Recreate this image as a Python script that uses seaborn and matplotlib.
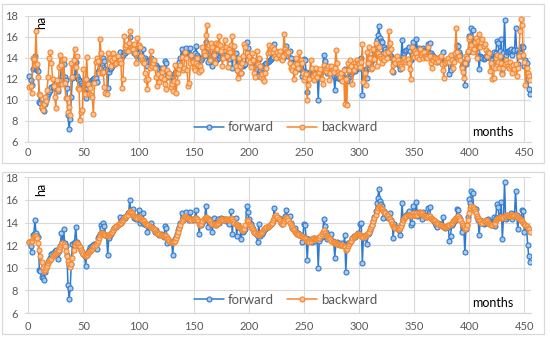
import numpy as np
import pandas as pd
import seaborn as sns
import matplotlib.pyplot as plt
from matplotlib.patches import Rectangle

# forward run (same in both panels)
forward = [
    12.3, 11.9, 11.4, 12.9, 13.0, 14.2, 13.1, 12.8, 12.7, 9.8,
    9.7, 9.2, 9.1, 8.9, 9.6, 10.0, 10.3, 10.5, 10.7, 10.9,
    11.2, 11.3, 11.1, 11.5, 11.6, 11.2, 10.8, 11.5, 11.9, 13.1,
    12.3, 13.4, 12.2, 11.9, 11.1, 8.5, 7.2, 8.2, 10.3, 12.1,
    12.2, 12.3, 13.6, 12.3, 12.0, 11.9, 11.8, 11.6, 11.4, 11.2,
    11.0, 10.2, 11.1, 11.4, 11.6, 11.8, 11.7, 11.9, 12.0, 12.1,
    12.1, 11.7, 12.6, 12.8, 13.0, 13.8, 13.5, 14.0, 13.7, 12.9,
    12.8, 11.1, 12.6, 12.9, 13.0, 13.2, 13.3, 13.5, 13.6, 13.6,
    13.8, 13.9, 14.5, 14.0, 14.2, 14.3, 14.5, 14.4, 14.6, 14.8,
    14.9, 16.0, 15.0, 14.8, 15.2, 14.4, 14.5, 14.3, 14.4, 15.1,
    14.0, 14.2, 14.1, 14.8, 13.9, 14.0, 13.8, 13.2, 13.7, 13.8,
    14.0, 13.6, 13.5, 13.4, 13.2, 13.3, 13.1, 13.0, 12.9, 13.0,
    12.9, 12.8, 12.7, 13.7, 13.5, 12.2, 12.5, 12.4, 12.3, 12.3,
    11.1, 12.4, 12.5, 12.7, 13.0, 13.3, 13.6, 14.0, 14.8, 14.2,
    14.4, 14.5, 14.9, 14.4, 14.3, 14.2, 14.9, 14.3, 14.2, 14.3,
    14.4, 15.1, 14.3, 14.1, 13.0, 13.9, 13.8, 14.0, 14.2, 14.3,
    15.5, 14.4, 13.6, 14.3, 14.1, 13.9, 13.2, 14.4, 14.0, 13.8,
    13.9, 14.3, 14.0, 14.2, 14.4, 14.2, 14.3, 14.3, 14.1, 14.2,
    14.2, 13.9, 14.3, 15.0, 13.0, 14.2, 14.3, 14.4, 12.8, 13.8,
    13.6, 13.5, 12.5, 13.3, 13.2, 13.3, 13.4, 15.5, 14.9, 14.3,
    14.0, 13.9, 13.6, 13.4, 13.2, 13.1, 12.9, 12.3, 13.9, 12.8,
    13.1, 13.0, 13.2, 13.3, 13.4, 13.5, 13.6, 13.7, 13.8, 13.9,
    14.0, 14.1, 15.3, 14.6, 14.4, 14.5, 14.4, 14.2, 14.0, 13.9,
    14.0, 14.3, 14.6, 15.1, 14.5, 14.2, 14.6, 14.0, 13.5, 13.5,
    13.4, 13.5, 13.2, 13.0, 13.1, 12.9, 12.9, 12.3, 12.7, 13.9,
    13.8, 12.6, 10.7, 12.4, 12.5, 12.4, 12.3, 12.5, 12.6, 12.4,
    12.5, 12.6, 10.0, 12.4, 12.6, 12.7, 12.8, 14.3, 13.7, 13.2,
    12.5, 12.8, 12.7, 12.6, 13.0, 12.4, 12.3, 10.9, 12.2, 12.3,
    12.1, 12.2, 12.0, 12.1, 12.2, 12.0, 12.9, 9.6, 11.8, 12.2,
    12.2, 12.3, 12.4, 12.6, 12.8, 12.7, 12.9, 13.0, 13.1, 13.0,
    13.9, 14.0, 10.4, 12.8, 12.6, 12.9, 12.1, 13.0, 13.1, 13.3,
    13.6, 13.8, 14.1, 14.5, 15.0, 15.7, 16.2, 17.0, 15.9, 15.6,
    15.5, 14.4, 15.0, 14.8, 14.6, 14.4, 14.5, 14.8, 14.2, 14.0,
    12.6, 13.9, 13.6, 13.5, 13.4, 13.3, 12.9, 13.8, 15.7, 14.2,
    14.4, 14.6, 14.7, 14.8, 15.0, 14.6, 13.8, 14.0, 15.5, 14.7,
    14.8, 15.8, 14.6, 14.9, 14.7, 14.8, 14.3, 14.9, 14.7, 14.6,
    14.5, 14.6, 15.3, 15.4, 14.4, 14.3, 14.2, 14.1, 14.0, 13.8,
    13.6, 14.0, 13.9, 13.8, 13.7, 14.5, 13.6, 13.5, 13.6, 13.7,
    13.6, 12.4, 12.8, 13.8, 14.0, 14.1, 14.2, 14.4, 15.2, 15.1,
    14.5, 14.3, 13.2, 13.6, 13.5, 11.4, 13.4, 13.8, 14.5, 16.1,
    15.7, 16.8, 16.6, 15.3, 15.0, 15.2, 14.5, 14.2, 12.9, 14.2,
    14.1, 14.0, 13.9, 14.0, 14.2, 14.1, 14.3, 14.1, 14.0, 13.9,
    13.8, 14.5, 13.7, 14.4, 15.6, 15.4, 14.5, 14.6, 15.8, 12.5,
    14.4, 17.6, 14.3, 14.5, 14.6, 14.6, 14.7, 14.8, 14.3, 14.6,
    14.7, 16.8, 14.7, 13.4, 14.5, 14.4, 14.2, 15.1, 15.0, 13.2,
    13.8, 13.5, 12.0, 11.0, 10.5,
]

# backward run, upper chart
backward_top = [
    11.2, 11.3, 10.6, 14.0, 13.9, 13.3, 16.5, 13.4, 12.2, 10.5,
    10.4, 9.3, 9.0, 9.6, 10.3, 9.9, 10.9, 12.2, 14.0, 14.5,
    13.5, 12.0, 11.3, 10.3, 9.2, 11.9, 11.0, 13.1, 14.3, 13.3,
    11.5, 13.9, 11.6, 10.2, 10.2, 8.8, 9.3, 8.5, 13.5, 12.2,
    13.8, 14.8, 13.1, 14.2, 11.1, 11.0, 8.1, 8.8, 9.0, 12.9,
    10.5, 12.0, 14.1, 11.5, 10.5, 11.1, 10.4, 10.3, 8.6, 11.6,
    13.6, 14.0, 13.7, 12.5, 15.8, 14.4, 12.5, 12.6, 11.2, 10.6,
    10.5, 14.4, 13.9, 14.0, 13.2, 13.8, 14.4, 14.0, 13.4, 13.5,
    14.2, 13.6, 13.8, 13.5, 11.1, 12.0, 16.1, 15.0, 15.2, 14.6,
    15.4, 16.5, 15.0, 14.9, 14.8, 15.3, 14.4, 13.5, 15.9, 15.2,
    15.0, 14.2, 13.8, 13.6, 13.5, 12.5, 11.9, 11.0, 12.0, 13.0,
    14.6, 13.2, 13.5, 13.8, 13.0, 12.2, 11.3, 12.4, 11.7, 12.2,
    12.6, 13.0, 12.0, 11.5, 11.0, 12.8, 12.3, 12.5, 11.2, 11.5,
    10.8, 11.8, 13.3, 10.6, 11.7, 12.5, 12.9, 13.3, 14.1, 12.8,
    13.0, 14.5, 14.0, 12.8, 11.3, 11.6, 13.5, 14.3, 13.6, 13.0,
    12.8, 13.5, 14.0, 13.3, 12.6, 13.2, 12.8, 15.0, 14.5, 14.3,
    16.2, 17.1, 15.0, 15.2, 13.8, 15.4, 15.0, 14.3, 13.5, 15.4,
    14.8, 15.3, 16.1, 15.2, 14.6, 13.2, 14.0, 15.7, 15.0, 14.2,
    13.1, 14.8, 14.5, 15.2, 16.1, 14.1, 15.1, 13.2, 12.8, 12.1,
    14.0, 13.2, 12.5, 13.5, 14.2, 15.3, 15.0, 14.4, 13.8, 14.2,
    13.6, 13.1, 14.4, 13.8, 12.5, 12.2, 14.6, 13.4, 14.0, 13.2,
    12.2, 12.4, 12.0, 11.8, 12.5, 13.0, 14.4, 15.2, 14.5, 14.8,
    15.0, 14.5, 14.8, 14.2, 14.0, 14.5, 14.3, 14.6, 14.0, 13.8,
    14.2, 16.3, 14.8, 14.4, 14.6, 14.5, 13.5, 13.0, 12.8, 13.2,
    12.0, 12.6, 14.0, 13.4, 13.0, 14.5, 13.8, 13.5, 12.5, 11.9,
    12.2, 12.4, 10.0, 11.4, 12.0, 13.8, 13.0, 12.3, 11.9, 12.4,
    13.0, 12.2, 12.5, 12.6, 12.9, 12.0, 11.5, 13.3, 12.9, 12.7,
    13.0, 13.2, 11.9, 12.5, 13.2, 12.8, 12.6, 13.0, 14.7, 13.5,
    12.6, 12.4, 12.2, 12.5, 11.8, 12.8, 9.6, 12.0, 9.5, 13.5,
    12.8, 13.8, 13.2, 11.5, 12.8, 13.6, 13.2, 13.8, 13.5, 13.4,
    13.1, 13.6, 15.3, 11.7, 12.5, 11.4, 14.5, 13.5, 15.0, 14.0,
    12.9, 13.0, 14.8, 13.9, 15.4, 13.2, 14.4, 15.0, 14.2, 14.0,
    13.5, 14.0, 13.8, 14.4, 14.0, 14.5, 16.5, 15.4, 14.8, 12.7,
    13.3, 13.9, 13.5, 14.2, 13.8, 13.5, 13.4, 13.2, 13.0, 13.6,
    14.0, 13.6, 13.8, 13.9, 13.5, 12.9, 12.0, 15.0, 14.3, 14.1,
    14.6, 14.4, 14.1, 13.9, 14.8, 14.3, 14.4, 14.0, 14.5, 14.2,
    14.1, 14.0, 15.0, 14.2, 13.5, 13.0, 13.8, 14.1, 14.0, 13.6,
    13.9, 13.7, 14.1, 14.2, 13.4, 12.8, 12.1, 13.5, 13.8, 13.6,
    14.0, 13.6, 14.3, 13.8, 13.0, 13.6, 14.4, 16.8, 14.5, 14.0,
    14.2, 13.8, 13.0, 12.6, 12.1, 13.5, 14.2, 14.0, 14.6, 15.8,
    16.0, 15.2, 14.5, 14.8, 15.5, 15.9, 14.0, 15.6, 16.3, 15.0,
    15.5, 15.8, 15.1, 15.3, 14.7, 14.2, 14.5, 14.4, 12.7, 13.5,
    12.0, 12.1, 13.0, 14.0, 14.3, 13.6, 13.0, 14.2, 13.5, 12.4,
    13.0, 13.4, 13.8, 13.5, 13.2, 13.0, 13.6, 13.2, 12.5, 13.3,
    12.9, 13.4, 12.3, 13.0, 14.2, 16.5, 17.7, 17.1, 14.3, 13.6,
    11.4, 13.0, 12.5, 12.3, 11.9,
]

# backward run, lower chart
backward_bottom = [
    12.3, 12.3, 12.4, 12.6, 12.7, 12.8, 12.8, 12.6, 12.2, 11.6,
    11.0, 10.5, 10.0, 9.7, 9.8, 10.0, 10.2, 10.4, 10.6, 10.7,
    10.8, 11.0, 11.1, 11.2, 11.3, 11.4, 11.5, 11.6, 11.8, 12.0,
    12.2, 12.1, 11.9, 11.5, 11.0, 10.6, 10.3, 10.1, 10.3, 10.9,
    11.6, 12.0, 12.2, 12.2, 12.1, 11.9, 11.8, 11.6, 11.4, 11.2,
    11.1, 11.0, 11.1, 11.3, 11.4, 11.5, 11.6, 11.7, 11.8, 11.9,
    12.0, 12.2, 12.4, 12.6, 12.9, 13.1, 13.1, 13.0, 13.0, 12.9,
    12.9, 12.8, 12.9, 13.0, 13.1, 13.2, 13.3, 13.5, 13.6, 13.7,
    13.8, 13.9, 14.0, 14.0, 14.1, 14.2, 14.4, 14.5, 14.6, 14.7,
    14.9, 15.0, 14.9, 14.8, 14.7, 14.6, 14.5, 14.5, 14.4, 14.5,
    14.4, 14.3, 14.2, 14.2, 14.1, 14.0, 13.9, 13.8, 13.8, 13.7,
    13.6, 13.5, 13.5, 13.4, 13.3, 13.2, 13.1, 13.0, 13.0, 12.9,
    12.9, 12.8, 12.8, 12.9, 12.8, 12.6, 12.5, 12.4, 12.3, 12.3,
    12.3, 12.3, 12.4, 12.6, 12.9, 13.2, 13.5, 13.8, 14.1, 14.3,
    14.5, 14.6, 14.5, 14.4, 14.4, 14.3, 14.3, 14.2, 14.3, 14.3,
    14.4, 14.4, 14.3, 14.1, 13.9, 13.8, 13.9, 14.1, 14.3, 14.4,
    14.5, 14.4, 14.3, 14.2, 14.1, 14.0, 13.9, 13.9, 13.8, 13.8,
    13.9, 14.0, 14.1, 14.2, 14.3, 14.3, 14.2, 14.2, 14.3, 14.3,
    14.2, 14.2, 14.3, 14.4, 14.3, 14.1, 14.0, 13.9, 13.8, 13.7,
    13.6, 13.5, 13.4, 13.3, 13.3, 13.4, 13.8, 14.2, 14.1, 13.9,
    13.8, 13.7, 13.5, 13.3, 13.2, 13.1, 13.0, 12.9, 13.0, 13.1,
    13.1, 13.2, 13.3, 13.4, 13.5, 13.6, 13.6, 13.7, 13.8, 13.9,
    14.0, 14.2, 14.4, 14.6, 14.7, 14.5, 14.3, 14.1, 14.0, 13.9,
    13.9, 14.1, 14.3, 14.5, 14.4, 14.2, 14.0, 13.8, 13.6, 13.4,
    13.3, 13.2, 13.1, 13.0, 13.0, 12.9, 12.8, 12.8, 12.7, 12.6,
    12.6, 12.5, 12.4, 12.4, 12.3, 12.4, 12.5, 12.6, 12.6, 12.5,
    12.5, 12.5, 12.6, 12.6, 12.8, 13.0, 13.2, 13.3, 13.1, 12.9,
    12.8, 12.7, 12.6, 12.5, 12.4, 12.3, 12.3, 12.2, 12.2, 12.1,
    12.1, 12.1, 12.0, 12.0, 12.0, 11.9, 11.8, 11.6, 11.7, 11.9,
    12.1, 12.3, 12.4, 12.6, 12.7, 12.8, 12.9, 13.0, 13.0, 13.0,
    12.9, 12.8, 12.7, 12.7, 12.8, 12.9, 13.0, 13.1, 13.2, 13.4,
    13.6, 13.8, 14.1, 14.4, 14.7, 15.0, 15.3, 15.5, 15.4, 15.3,
    15.2, 15.0, 14.9, 14.8, 14.7, 14.6, 14.4, 14.3, 14.1, 13.9,
    13.7, 13.6, 13.5, 13.5, 13.4, 13.4, 13.5, 13.7, 14.0, 14.2,
    14.4, 14.5, 14.6, 14.7, 14.7, 14.7, 14.6, 14.7, 14.8, 14.7,
    14.7, 14.8, 14.7, 14.8, 14.9, 14.8, 14.8, 14.7, 14.6, 14.6,
    14.5, 14.5, 14.6, 14.6, 14.4, 14.3, 14.2, 14.2, 14.1, 14.0,
    14.0, 13.9, 13.8, 13.8, 13.7, 13.7, 13.6, 13.6, 13.6, 13.7,
    13.8, 13.8, 13.9, 14.0, 14.1, 14.2, 14.3, 14.4, 14.5, 14.6,
    14.4, 14.2, 14.0, 13.8, 13.6, 13.4, 13.5, 13.8, 14.2, 14.8,
    15.3, 15.5, 15.4, 15.2, 15.0, 14.8, 14.6, 14.4, 14.2, 14.1,
    14.0, 14.0, 14.1, 14.1, 14.2, 14.1, 14.0, 13.9, 13.9, 13.8,
    13.8, 13.9, 14.0, 14.2, 14.3, 14.4, 14.4, 14.5, 14.5, 14.4,
    14.5, 14.6, 14.6, 14.7, 14.7, 14.6, 14.6, 14.7, 14.7, 14.6,
    14.7, 14.7, 14.6, 14.5, 14.4, 14.3, 14.2, 14.1, 14.0, 13.9,
    13.8, 13.7, 13.5, 13.4, 13.2,
]

x_ticks = [0, 50, 100, 150, 200, 250, 300, 350, 400, 450]
y_ticks = [6, 8, 10, 12, 14, 16, 18]

BLUE = "#2f7bd0"
ORANGE = "#f5862c"
GRID = "#d9d9d9"
TXT = "#595959"

sns.set_theme(style="white")
plt.rcParams["font.family"] = ["Lato", "DejaVu Sans"]

W, H = 550, 339
fig = plt.figure(figsize=(W / 100, H / 100), dpi=100)

# chart area frames
for y0, y1 in [(4, 163), (172, 334)]:
    fig.add_artist(Rectangle((2 / W, 1 - y1 / H), 542 / W, (y1 - y0) / H,
                             transform=fig.transFigure, fill=False,
                             edgecolor=GRID, lw=0.9))

panels = [
    # (top px, bottom px, backward series, tick pad, legend y, ha y)
    (15.7, 141.7, backward_top, 3.8, 0.115, 17.35),
    (177.3, 313.0, backward_bottom, 5.5, 0.098, 16.9),
]

for top_px, bot_px, bwd, pad, leg_y, ha_y in panels:
    ax = fig.add_axes([25 / W, 1 - bot_px / H, 506 / W, (bot_px - top_px) / H])
    df = pd.DataFrame({
        "month": np.arange(1, len(forward) + 1),
        "forward": forward,
    })
    db = pd.DataFrame({"month": np.arange(1, len(bwd) + 1), "backward": bwd})

    sns.lineplot(data=df, x="month", y="forward", ax=ax, color=BLUE, lw=1.1,
                 marker="o", markersize=3.6, markerfacecolor="#a9c9ef",
                 markeredgecolor=BLUE, markeredgewidth=0.8, label="forward",
                 zorder=3)
    sns.lineplot(data=db, x="month", y="backward", ax=ax, color=ORANGE, lw=1.1,
                 marker="o", markersize=3.6, markerfacecolor="#fbc49a",
                 markeredgecolor=ORANGE, markeredgewidth=0.8, label="backward",
                 zorder=4)

    ax.set_xlim(-3, 456)
    ax.set_ylim(6, 18)
    ax.set_xticks(x_ticks)
    ax.set_yticks(y_ticks)
    ax.grid(True, color=GRID, lw=0.8)
    ax.set_axisbelow(True)
    for s in ["top", "right", "left"]:
        ax.spines[s].set_visible(False)
    ax.spines["bottom"].set_color(GRID)
    ax.spines["bottom"].set_linewidth(0.9)
    ax.tick_params(axis="both", length=0, labelsize=8, labelcolor=TXT)
    ax.tick_params(axis="x", pad=pad)
    ax.tick_params(axis="y", pad=5)
    ax.set_xlabel("")
    ax.set_ylabel("")

    ax.legend(loc="center", bbox_to_anchor=(0.515, leg_y), ncol=2,
              frameon=False, fontsize=9.5, labelcolor=TXT, handlelength=2.3,
              columnspacing=1.0, handletextpad=0.3)
    ax.text(0.925, 0.075, "months", transform=ax.transAxes, ha="center",
            va="center", fontsize=9, color="black")
    ax.text(12, ha_y, "ha", rotation=90, ha="center", va="center",
            fontsize=9, color="black")

fig.savefig("out.png", dpi=100)
